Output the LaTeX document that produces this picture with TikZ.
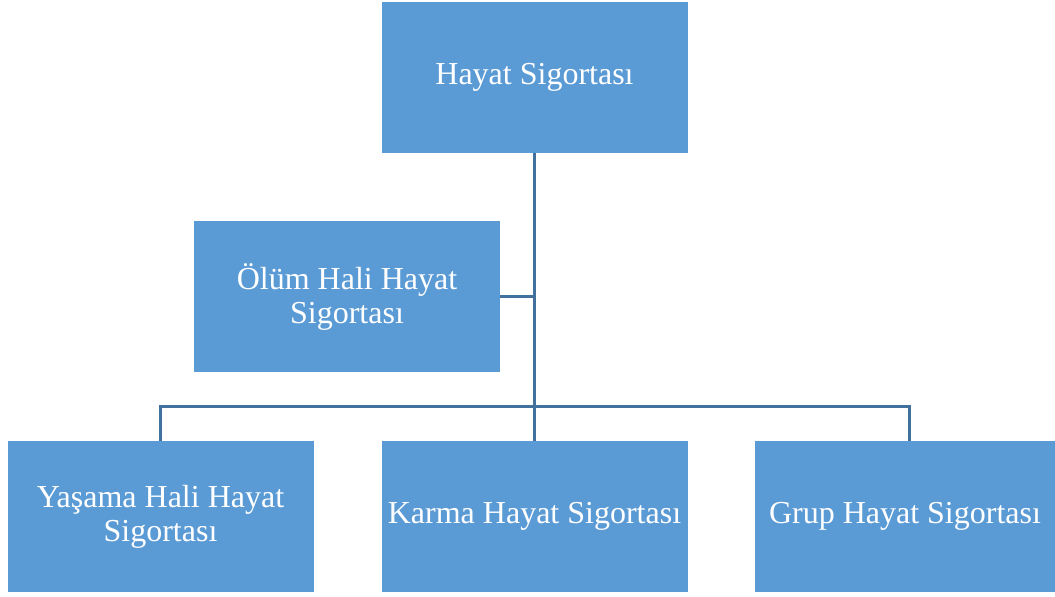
\documentclass[tikz,border=0pt]{standalone}
\usepackage{fontspec}
\setmainfont{Liberation Serif}
\usetikzlibrary{positioning}
\definecolor{boxblue}{HTML}{5B9BD5}
\definecolor{lineblue}{HTML}{41719C}
\tikzset{
    box/.style={fill=boxblue, text=white, minimum width=306pt, minimum height=151pt,
        align=center, inner sep=0pt, font=\fontsize{32}{34}\selectfont},
    conn/.style={draw=lineblue, line width=3pt}
}

\begin{document}
\begin{tikzpicture}[x=1pt,y=-1pt]
            \useasboundingbox (0,0) rectangle (1055,597);
            % boxes
            \node [box] (hayat) at (534.5,77) {Hayat Sigortası};
            \node [box] (olum) at (347,296.5) {Ölüm Hali Hayat\\Sigortası};
            \node [box] (yasama) at (160.5,516.5) {Yaşama Hali Hayat\\Sigortası};
            \node [box] (karma) at (534.5,516.5) {Karma Hayat Sigortası};
            \node [box, minimum width=300pt] (grup) at (905,516.5) {Grup Hayat Sigortası};
            \coordinate (bus) at (0,406);
            \coordinate (grupdrop) at (909,441);

            % connectors
            \draw [conn] (hayat.south) -- (karma.north);
            \draw [conn] (olum.east) -- (olum.east -| hayat.south);
            \draw [conn] (yasama.north) -- (yasama.north |- bus) -- (grupdrop |- bus) -- (grupdrop);
        \end{tikzpicture}
\end{document}
